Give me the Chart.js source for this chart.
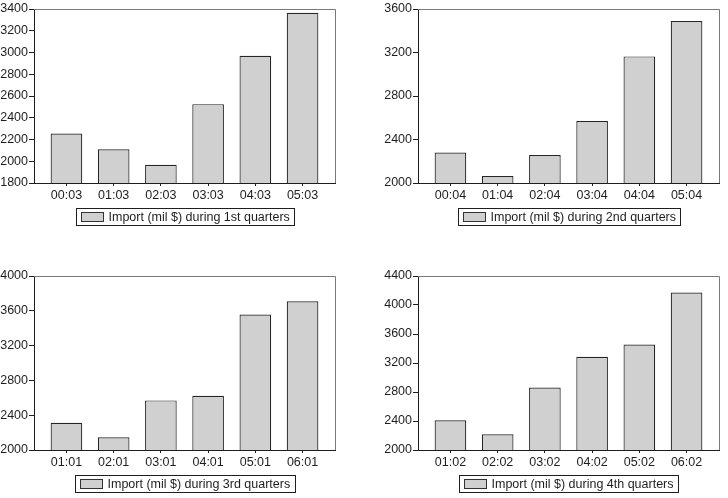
<!DOCTYPE html>
<html>
<head>
<meta charset="utf-8">
<script src="https://cdn.jsdelivr.net/npm/chart.js@4.4.1/dist/chart.umd.min.js"></script>
<style>
    body { margin: 0; background: #fff; width: 728px; height: 498px; position: relative; overflow: hidden; }
    canvas { position: absolute; }
    #q1 { left: 0; top: 0; }
    #q2 { left: 384px; top: 0; }
    #q3 { left: 0; top: 266px; }
    #q4 { left: 384px; top: 266px; }
</style>
</head>
<body>
<canvas id="q1" width="344" height="240"></canvas>
<canvas id="q2" width="344" height="240"></canvas>
<canvas id="q3" width="344" height="232"></canvas>
<canvas id="q4" width="344" height="232"></canvas>
<script>
// data
const q1Labels = ["00:03", "01:03", "02:03", "03:03", "04:03", "05:03"];
const q1Values = [2255, 2110, 1968, 2525, 2970, 3366];
const q1Ticks = [1800, 2000, 2200, 2400, 2600, 2800, 3000, 3200, 3400];

const q2Labels = ["00:04", "01:04", "02:04", "03:04", "04:04", "05:04"];
const q2Values = [2281, 2064, 2257, 2570, 3164, 3490];
const q2Ticks = [2000, 2400, 2800, 3200, 3600];

const q3Labels = ["01:01", "02:01", "03:01", "04:01", "05:01", "06:01"];
const q3Values = [2313, 2146, 2570, 2623, 3557, 3710];
const q3Ticks = [2000, 2400, 2800, 3200, 3600, 4000];

const q4Labels = ["01:02", "02:02", "03:02", "04:02", "05:02", "06:02"];
const q4Values = [2409, 2216, 2863, 3285, 3455, 4171];
const q4Ticks = [2000, 2400, 2800, 3200, 3600, 4000, 4400];

const FONT = '"Liberation Sans", Arial, Helvetica, sans-serif';
const FONT_SIZE = 12.5;
const INK = "#1e1e1e";
const BAR_FILL = "#d0d0d0";

// grey top/right frame lines
const framePlugin = {
    id: "frame",
    beforeDatasetsDraw(chart) {
        const { ctx, chartArea: a } = chart;
        ctx.save();
        ctx.strokeStyle = "#7a7a7a";
        ctx.lineWidth = 1;
        ctx.beginPath();
        ctx.moveTo(Math.round(a.left), Math.round(a.top) + 0.5);
        ctx.lineTo(Math.round(a.right) + 0.5, Math.round(a.top) + 0.5);
        ctx.lineTo(Math.round(a.right) + 0.5, Math.round(a.bottom));
        ctx.stroke();
        ctx.restore();
    },
};

// boxed legend under the plot, centred on the chart area
const boxLegendPlugin = {
    id: "boxLegend",
    afterDraw(chart) {
        const { ctx, chartArea: a } = chart;
        const ds = chart.data.datasets[0];
        ctx.save();
        ctx.font = FONT_SIZE + "px " + FONT;
        const tw = ctx.measureText(ds.label).width;
        const w = Math.round(5 + 22 + 5 + tw + 5);
        const h = 17;
        const x = Math.round((a.left + a.right) / 2 - w / 2) + 0.5;
        const y = Math.round(a.bottom + 25) + 0.5;
        ctx.lineWidth = 1;
        ctx.strokeStyle = INK;
        ctx.strokeRect(x, y, w, h);
        ctx.fillStyle = BAR_FILL;
        ctx.fillRect(x + 5, y + 4, 22, 9);
        ctx.strokeStyle = "#333";
        ctx.strokeRect(x + 5, y + 4, 22, 9);
        ctx.fillStyle = INK;
        ctx.textBaseline = "middle";
        ctx.fillText(ds.label, x + 32, y + h / 2 + 0.5);
        ctx.restore();
    },
};

function makeQuarterChart(id, labels, values, ticks, legendText, top, bottom) {
    const ctx = document.getElementById(id).getContext("2d");
    return new Chart(ctx, {
        type: "bar",
        data: {
            datasets: [{
                label: legendText,
                data: values.map((v, i) => ({ x: i, y: v })),
                backgroundColor: BAR_FILL,
                borderColor: "#262626",
                borderWidth: 1.2,
                borderSkipped: "start",
                categoryPercentage: 1,
                barPercentage: 0.67,
            }],
        },
        options: {
            responsive: false,
            animation: false,
            events: [],
            layout: { padding: { left: 0, right: 9, top: top, bottom: bottom } },
            plugins: { legend: { display: false }, tooltip: { enabled: false } },
            scales: {
                x: {
                    type: "linear",
                    min: -0.687,
                    max: labels.length - 1 + 0.687,
                    offset: false,
                    afterBuildTicks: (s) => { s.ticks = labels.map((_, i) => ({ value: i })); },
                    afterFit: (s) => { s.height = 30; },
                    grid: { offset: false, drawOnChartArea: false, drawTicks: true, tickLength: 3, color: INK },
                    border: { display: true, color: INK, width: 1 },
                    ticks: {
                        autoSkip: false,
                        maxRotation: 0,
                        padding: 2,
                        color: INK,
                        font: { family: FONT, size: FONT_SIZE },
                        callback: (v) => labels[v],
                    },
                },
                y: {
                    min: ticks[0],
                    max: ticks[ticks.length - 1],
                    afterBuildTicks: (s) => { s.ticks = ticks.map((t) => ({ value: t })); },
                    afterFit: (s) => { s.width = 34; },
                    grid: { drawOnChartArea: false, drawTicks: true, tickLength: 5, color: INK },
                    border: { display: true, color: INK, width: 1 },
                    ticks: {
                        padding: 1,
                        color: INK,
                        font: { family: FONT, size: FONT_SIZE },
                        callback: (v) => String(v),
                    },
                },
            },
        },
        plugins: [framePlugin, boxLegendPlugin],
    });
}

makeQuarterChart("q1", q1Labels, q1Values, q1Ticks, "Import (mil $) during 1st quarters", 9, 27);
makeQuarterChart("q2", q2Labels, q2Values, q2Ticks, "Import (mil $) during 2nd quarters", 9, 27);
makeQuarterChart("q3", q3Labels, q3Values, q3Ticks, "Import (mil $) during 3rd quarters", 10, 18);
makeQuarterChart("q4", q4Labels, q4Values, q4Ticks, "Import (mil $) during 4th quarters", 10, 18);
</script>
</body>
</html>
